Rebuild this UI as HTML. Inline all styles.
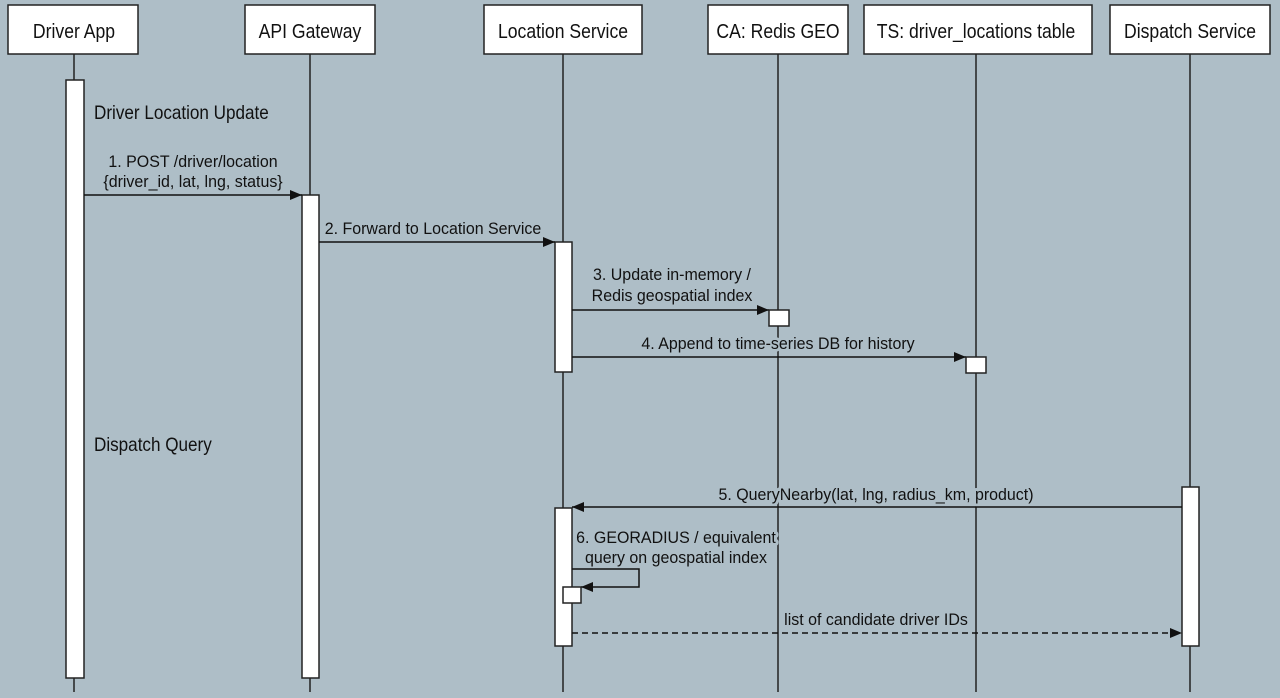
<!DOCTYPE html>
<html><head><meta charset="utf-8"><style>
html,body{margin:0;padding:0;background:#aebec7;}
svg{display:block}
text{font-family:"Liberation Sans",sans-serif;fill:#111;}
.l text{stroke:#aebec7;stroke-width:6px;paint-order:stroke;stroke-linejoin:round;}
</style></head><body>
<svg width="1280" height="698" viewBox="0 0 1280 698" xmlns="http://www.w3.org/2000/svg">
<defs><marker id="a" markerWidth="12" markerHeight="10" refX="12" refY="5" orient="auto" markerUnits="userSpaceOnUse"><path d="M0,0 L12,5 L0,10 z" fill="#111"/></marker></defs>
<rect width="1280" height="698" fill="#aebec7"/>
<g stroke="#222" stroke-width="1.5">
<line x1="74" y1="54" x2="74" y2="692"/>
<line x1="310" y1="54" x2="310" y2="692"/>
<line x1="563" y1="54" x2="563" y2="692"/>
<line x1="778" y1="54" x2="778" y2="692"/>
<line x1="976" y1="54" x2="976" y2="692"/>
<line x1="1190" y1="54" x2="1190" y2="692"/>
</g>
<g fill="#fff" stroke="#222" stroke-width="1.5">
<rect x="8" y="5" width="130" height="49"/>
<rect x="245" y="5" width="130" height="49"/>
<rect x="484" y="5" width="158" height="49"/>
<rect x="708" y="5" width="140" height="49"/>
<rect x="864" y="5" width="228" height="49"/>
<rect x="1110" y="5" width="160" height="49"/>
</g>
<g font-size="20" text-anchor="middle">
<g transform="translate(74,38) scale(0.88,1)"><text>Driver App</text></g>
<g transform="translate(310,38) scale(0.88,1)"><text>API Gateway</text></g>
<g transform="translate(563,38) scale(0.88,1)"><text>Location Service</text></g>
<g transform="translate(778,38) scale(0.88,1)"><text>CA: Redis GEO</text></g>
<g transform="translate(976,38) scale(0.88,1)"><text>TS: driver_locations table</text></g>
<g transform="translate(1190,38) scale(0.88,1)"><text>Dispatch Service</text></g>
</g>
<g fill="#fff" stroke="#222" stroke-width="1.5">
<rect x="66" y="80" width="18" height="598"/>
<rect x="302" y="195" width="17" height="483"/>
<rect x="555" y="242" width="17" height="130"/>
<rect x="555" y="508" width="17" height="138"/>
<rect x="1182" y="487" width="17" height="159"/>
</g>
<g font-size="19">
<g transform="translate(94,119) scale(0.9,1)"><text>Driver Location Update</text></g>
<g transform="translate(94,451) scale(0.9,1)"><text>Dispatch Query</text></g>
</g>
<g class="l" font-size="17" text-anchor="middle">
<g transform="translate(193,167) scale(0.94,1)"><text>1. POST /driver/location</text></g>
<g transform="translate(193,187) scale(0.94,1)"><text>{driver_id, lat, lng, status}</text></g>
<g transform="translate(433,234) scale(0.94,1)"><text>2. Forward to Location Service</text></g>
<g transform="translate(672,280) scale(0.94,1)"><text>3. Update in-memory /</text></g>
<g transform="translate(672,301) scale(0.94,1)"><text>Redis geospatial index</text></g>
<g transform="translate(778,349) scale(0.94,1)"><text>4. Append to time-series DB for history</text></g>
<g transform="translate(876,500) scale(0.94,1)"><text>5. QueryNearby(lat, lng, radius_km, product)</text></g>
<g transform="translate(676,543) scale(0.94,1)"><text>6. GEORADIUS / equivalent</text></g>
<g transform="translate(676,563) scale(0.94,1)"><text>query on geospatial index</text></g>
<g transform="translate(876,625) scale(0.94,1)"><text>list of candidate driver IDs</text></g>
</g>
<g stroke="#111" stroke-width="1.5" fill="none">
<line x1="84" y1="195" x2="302" y2="195" marker-end="url(#a)"/>
<line x1="319" y1="242" x2="555" y2="242" marker-end="url(#a)"/>
<line x1="572" y1="310" x2="769" y2="310" marker-end="url(#a)"/>
<line x1="572" y1="357" x2="966" y2="357" marker-end="url(#a)"/>
<line x1="1182" y1="507" x2="572" y2="507" marker-end="url(#a)"/>
<polyline points="572,569 639,569 639,587 581,587" marker-end="url(#a)"/>
<line x1="572" y1="633" x2="1182" y2="633" stroke-dasharray="6,4" marker-end="url(#a)"/>
</g>
<g fill="#fff" stroke="#222" stroke-width="1.5">
<rect x="769" y="310" width="20" height="16"/>
<rect x="966" y="357" width="20" height="16"/>
<rect x="563" y="587" width="18" height="16"/>
</g>
</svg>
</body></html>
